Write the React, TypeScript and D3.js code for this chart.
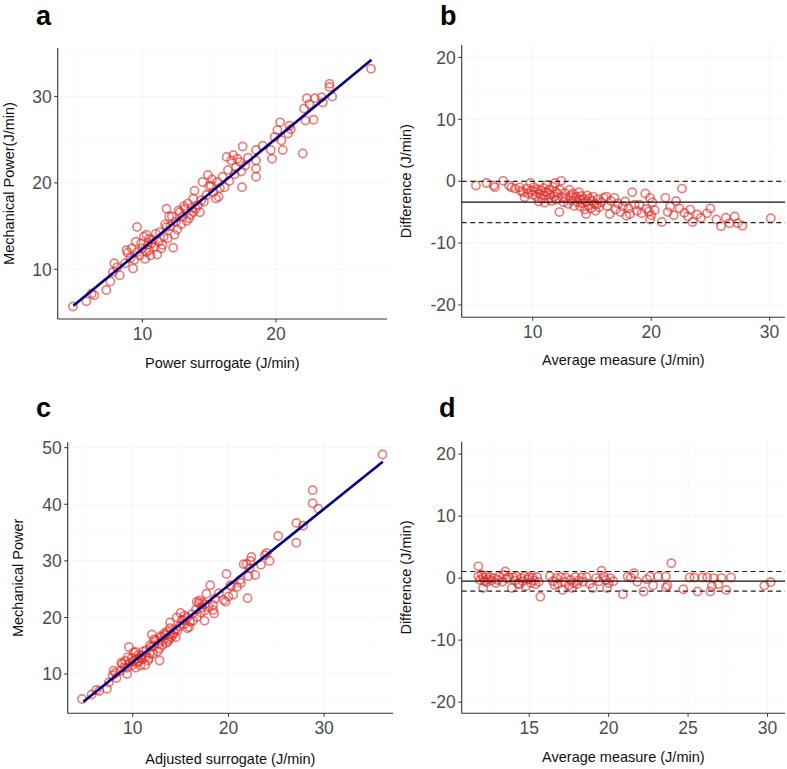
import React, { useEffect } from 'react';
import * as d3 from 'd3';

type Pt = [number, number];

// Panel a: power surrogate vs mechanical power (J/min)
const aPoints: Pt[] = [
  [4.8, 5.7], [5.8, 6.3], [6.2, 7.2], [6.4, 7.0], [7.3, 7.6], [7.6, 8.6], [7.8, 9.7], [7.9, 10.7],
  [8.3, 9.3], [8.1, 10.2], [8.7, 10.7], [8.8, 12.2], [8.9, 11.9], [9.1, 11.3], [9.3, 10.1], [9.4, 11.1],
  [9.2, 12.4], [9.6, 14.9], [9.5, 13.2], [9.6, 12.0], [9.9, 13.0], [9.8, 11.6], [10.0, 12.4], [10.1, 13.8],
  [10.2, 11.2], [10.3, 14.0], [10.3, 12.0], [10.4, 12.8], [10.5, 12.2], [10.5, 13.5], [10.6, 11.6], [10.7, 13.0],
  [10.8, 13.4], [10.9, 12.6], [11.0, 14.1], [11.1, 11.7], [11.2, 13.2], [11.3, 14.3], [11.4, 12.4], [11.5, 12.8],
  [11.6, 13.8], [11.7, 15.2], [11.8, 17.0], [11.8, 14.9], [11.9, 13.6], [12.0, 16.1], [12.1, 15.0], [12.2, 16.1],
  [12.3, 12.5], [12.4, 14.0], [12.5, 15.5], [12.6, 14.6], [12.7, 16.8], [12.8, 16.6], [12.9, 15.2], [13.0, 16.1],
  [13.1, 17.3], [13.2, 17.0], [13.3, 15.6], [13.4, 17.6], [13.5, 15.9], [13.6, 16.3], [13.7, 17.1], [13.8, 16.6],
  [13.8, 18.2], [13.9, 19.1], [14.0, 17.0], [14.15, 17.4], [14.3, 16.6], [14.4, 18.0], [14.5, 20.1], [14.6, 17.8],
  [14.8, 18.6], [14.9, 20.9], [15.0, 19.6], [15.15, 19.7], [15.2, 20.4], [15.3, 18.9], [15.5, 18.2], [15.6, 20.1],
  [15.7, 18.4], [15.8, 19.4], [16.0, 20.7], [16.15, 19.5], [16.3, 23.0], [16.4, 21.5], [16.5, 20.2], [16.65, 22.6],
  [16.8, 23.2], [16.9, 21.0], [17.0, 21.8], [17.1, 22.8], [17.3, 22.4], [17.4, 21.3], [17.45, 19.5], [17.5, 24.2],
  [17.7, 22.0], [17.9, 22.9], [18.5, 23.8], [18.5, 22.6], [18.5, 21.65], [18.5, 20.7], [19.0, 24.3], [19.6, 23.8],
  [19.7, 22.8], [19.9, 25.3], [20.1, 26.1], [20.3, 27.0], [20.4, 24.9], [20.5, 23.8], [20.9, 25.7], [21.0, 26.6],
  [21.1, 26.2], [22.0, 23.4], [22.1, 28.6], [22.2, 27.2], [22.3, 29.8], [22.5, 29.1], [22.8, 27.3], [22.9, 29.8],
  [23.4, 29.9], [23.5, 29.3], [24.0, 31.45], [24.0, 31.1], [24.2, 30.0], [27.1, 33.2],
];
const aFit: Pt[] = [[4.83, 5.77], [27.14, 34.23]];

// Panel b: Bland-Altman of panel a
const bPoints: Pt[] = [
  [5.2, -0.7], [6.1, -0.3], [6.7, -0.7], [6.8, -1.0], [7.5, 0.05], [8.0, -0.7], [8.2, -1.0], [8.5, -1.2],
  [8.9, -1.0], [9.0, -1.6], [9.2, -1.8], [9.3, -2.6], [9.5, -1.2], [9.6, -2.0], [9.8, -0.3], [9.9, -1.5],
  [10.0, -2.2], [10.1, -1.0], [10.2, -1.7], [10.3, -2.5], [10.4, -1.3], [10.5, -3.3], [10.6, -2.0], [10.7, -1.5],
  [10.8, -2.8], [10.9, -1.1], [11.0, -2.3], [11.0, -3.5], [11.1, -1.8], [11.2, -0.6], [11.3, -2.9], [11.4, -1.4],
  [11.5, -2.2], [11.6, -3.2], [11.7, -0.9], [11.8, -2.5], [11.9, -0.3], [11.9, -1.7], [12.0, -3.0], [12.1, -2.0],
  [12.25, -5.0], [12.3, -1.4], [12.4, 0.05], [12.5, -2.6], [12.6, -3.4], [12.7, -1.9], [12.8, -2.8], [13.0, -3.7],
  [13.1, -1.4], [13.2, -2.3], [13.3, -3.1], [13.4, -2.0], [13.5, -4.0], [13.6, -2.7], [13.7, -2.5], [13.8, -3.4],
  [13.9, -1.8], [14.0, -4.1], [14.0, -3.0], [14.1, -2.4], [14.2, -3.6], [14.3, -2.9], [14.4, -4.6], [14.5, -5.3],
  [14.5, -3.3], [14.6, -2.3], [14.7, -3.9], [14.8, -2.8], [14.9, -4.4], [15.0, -3.2], [15.1, -2.5], [15.2, -3.7],
  [15.3, -4.8], [15.4, -3.8], [15.5, -2.9], [15.6, -4.2], [15.8, -3.4], [16.0, -2.7], [16.2, -2.5], [16.3, -4.0],
  [16.5, -5.3], [16.6, -3.2], [16.9, -2.7], [17.0, -4.6], [17.2, -3.6], [17.4, -5.0], [17.6, -4.1], [17.8, -3.3],
  [17.9, -5.6], [18.1, -4.4], [18.2, -5.3], [18.4, -1.8], [18.6, -3.8], [18.8, -4.8], [19.0, -3.8], [19.2, -5.2],
  [19.5, -2.0], [19.6, -4.5], [19.8, -4.9], [19.9, -2.7], [19.9, -6.2], [20.0, -5.5], [20.1, -3.4], [20.3, -4.7],
  [20.9, -6.6], [21.2, -2.7], [21.4, -5.0], [21.6, -4.1], [21.9, -5.5], [22.1, -3.2], [22.4, -4.4], [22.6, -1.2],
  [22.8, -5.1], [23.1, -5.7], [23.3, -4.6], [23.5, -6.6], [23.9, -5.4], [24.2, -5.9], [24.7, -5.2], [25.0, -4.4],
  [25.5, -6.2], [25.9, -7.3], [26.3, -5.9], [26.6, -6.8], [27.05, -5.7], [27.3, -6.8], [27.7, -7.2], [30.1, -6.0],
];
const bLimits = [-3.39, -0.03, -6.7]; // mean, upper, lower

// Panel c: adjusted surrogate vs mechanical power
const cPoints: Pt[] = [
  [4.7, 5.6], [5.7, 6.4], [6.2, 7.2], [6.5, 7.0], [7.3, 7.4], [7.5, 8.5], [7.9, 9.8], [8.0, 10.6],
  [8.3, 9.3], [8.2, 10.2], [8.7, 10.6], [8.8, 12.0], [8.9, 11.8], [9.1, 11.2], [9.4, 10.0], [9.4, 11.1],
  [9.2, 12.3], [9.6, 14.8], [9.5, 13.0], [9.7, 12.0], [9.9, 12.9], [9.9, 11.5], [10.1, 12.3], [10.1, 13.8],
  [10.3, 11.1], [10.3, 13.9], [10.4, 12.0], [10.5, 12.7], [10.6, 12.2], [10.6, 13.4], [10.8, 11.5], [10.8, 12.9],
  [10.9, 13.3], [11.0, 12.6], [11.1, 14.0], [11.3, 11.6], [11.4, 13.1], [11.4, 14.2], [11.6, 12.4], [11.7, 12.8],
  [11.8, 13.7], [11.8, 15.1], [12.0, 17.0], [11.9, 14.8], [12.1, 13.6], [12.2, 16.1], [12.2, 15.0], [12.4, 16.0],
  [12.8, 12.4], [12.6, 14.0], [12.7, 15.4], [12.8, 14.5], [12.9, 16.7], [13.0, 16.5], [13.1, 15.1], [13.2, 16.0],
  [13.3, 17.2], [13.4, 16.9], [13.5, 15.5], [13.6, 17.5], [13.7, 15.8], [13.8, 16.2], [13.9, 17.0], [14.0, 16.5],
  [13.9, 18.1], [13.9, 19.1], [14.2, 16.9], [14.3, 17.3], [14.5, 16.5], [14.5, 17.9], [14.6, 20.0], [14.7, 17.7],
  [14.9, 18.5], [15.0, 20.8], [15.1, 19.5], [15.3, 19.6], [15.4, 20.3], [15.4, 18.8], [15.7, 18.1], [15.7, 20.0],
  [15.9, 18.3], [16.0, 19.3], [16.2, 20.6], [16.3, 19.4], [16.7, 22.8], [16.6, 21.4], [16.7, 20.1], [16.9, 22.5],
  [17.0, 23.0], [17.1, 20.9], [17.2, 21.7], [17.3, 22.6], [17.5, 22.3], [17.5, 21.2], [17.5, 19.4], [17.7, 24.2],
  [17.9, 21.9], [18.1, 25.7], [18.4, 22.2], [18.4, 21.3], [18.5, 20.7], [18.6, 23.3], [19.0, 24.3], [19.5, 23.1],
  [19.7, 22.8], [19.8, 27.7], [20.0, 23.7], [20.2, 25.7], [20.3, 25.5], [20.5, 24.0], [20.9, 25.4], [21.2, 26.6],
  [21.3, 26.1], [21.6, 29.4], [21.9, 29.4], [22.0, 23.4], [22.1, 27.3], [22.2, 28.7], [22.3, 30.0], [22.4, 30.7],
  [22.8, 27.5], [23.4, 29.3], [23.8, 31.0], [24.0, 31.4], [24.3, 30.0], [25.2, 34.4], [27.1, 36.7], [27.1, 33.2],
  [27.8, 36.2], [28.8, 42.5], [28.8, 40.2], [29.4, 39.2], [36.1, 48.8],
];
const cFit: Pt[] = [[4.84, 5.11], [36.13, 47.5]];

// Panel d: Bland-Altman of panel c
const dPoints: Pt[] = [
  [11.8, 1.9], [11.8, 0.3], [11.9, -0.3], [12.0, 0.6], [12.1, -1.6], [12.1, 0.1], [12.2, -0.5], [12.3, -0.65],
  [12.3, 0.4], [12.4, -0.2], [12.5, 0.2], [12.6, -0.4], [12.8, 0.0], [12.9, -0.8], [13.0, -0.3], [13.1, 0.3],
  [13.3, -0.6], [13.4, 0.5], [13.5, 1.07], [13.6, -0.1], [13.7, 0.2], [13.9, -1.6], [14.0, 0.1], [14.1, -0.4],
  [14.2, 0.3], [14.3, -0.9], [14.4, -1.0], [14.5, 0.0], [14.6, -0.5], [14.7, 0.3], [14.8, -1.3], [14.9, -0.2],
  [15.0, 0.2], [15.1, -0.8], [15.2, 0.1], [15.3, -0.4], [15.4, -1.0], [15.5, 0.2], [15.6, -0.6], [15.7, -3.0],
  [16.3, 0.3], [16.5, -0.5], [16.6, -1.1], [16.7, 0.0], [16.8, -0.9], [17.0, 0.2], [17.1, -1.9], [17.2, -0.6],
  [17.3, 0.1], [17.5, -1.2], [17.6, -0.3], [17.7, -1.6], [17.8, -0.8], [17.9, 0.2], [18.0, -1.0], [18.1, -0.4],
  [18.3, 0.1], [18.4, -0.6], [18.6, 0.2], [18.8, -0.9], [19.0, -1.6], [19.2, 0.0], [19.4, -0.5], [19.55, 1.2],
  [19.7, 0.3], [19.8, -0.3], [19.9, -1.6], [20.0, -0.8], [20.1, 0.0], [20.3, -0.5], [20.9, -2.6], [21.2, 0.27],
  [21.4, 0.1], [21.6, 0.8], [21.8, -0.6], [22.2, -2.15], [22.4, -0.2], [22.6, 0.27], [22.8, -1.2], [23.1, 0.27],
  [23.6, 0.27], [23.6, -1.5], [23.7, -1.2], [23.95, 2.4], [24.7, -1.8], [25.1, 0.1], [25.4, 0.1], [25.6, -2.15],
  [25.9, 0.1], [26.2, 0.1], [26.4, -2.15], [26.5, -1.3], [26.6, 0.0], [26.9, -1.0], [27.1, 0.0], [27.4, -1.9],
  [27.7, 0.1], [29.8, -1.2], [30.2, -0.65],
];
const dLimits = [-0.48, 1.07, -2.1];

// axis domains and tick values
const aXDomain = [3.66, 28.3];
const aYDomain = [4.25, 35.6];
const aXTicks = [10, 20];
const aYTicks = [10, 20, 30];
const bXDomain = [4.0, 31.3];
const bYDomain = [-22, 22];
const bXTicks = [10, 20, 30];
const bYTicks = [-20, -10, 0, 10, 20];
const cXDomain = [3.2, 37.2];
const cYDomain = [3.07, 50.95];
const cXTicks = [10, 20, 30];
const cYTicks = [10, 20, 30, 40, 50];
const dXDomain = [10.75, 31.1];
const dYDomain = [-21.8, 22.0];
const dXTicks = [15, 20, 25, 30];
const dYTicks = [-20, -10, 0, 10, 20];

const FONT = '"Liberation Sans", Arial, Helvetica, sans-serif';

interface PanelSpec {
  tag: string;
  tagX: number;
  tagY: number;
  left: number;
  top: number;
  right: number;
  bottom: number;
  xDomain: number[];
  yDomain: number[];
  xTicks: number[];
  yTicks: number[];
  points: Pt[];
  fit?: Pt[];
  limits?: number[];
  xTitle: string;
  yTitle: string;
  xTitleY: number;
  yTitleX: number;
}

// minor grid positions: halfway between the major ticks
function minorOf(ticks: number[], domain: number[]) {
  const step = ticks.length > 1 ? ticks[1] - ticks[0] : 10;
  const out: number[] = [];
  const start = ticks[0] - step / 2 - step * 3;
  for (let v = start; v <= domain[1]; v += step) {
    if (v >= domain[0]) out.push(v);
  }
  return out;
}

function Panel({ p }: { p: PanelSpec }) {
  const x = d3.scaleLinear().domain(p.xDomain).range([p.left, p.right]);
  const y = d3.scaleLinear().domain(p.yDomain).range([p.bottom, p.top]);
  const line = d3.line<Pt>().x(d => x(d[0])).y(d => y(d[1]));
  const xMinor = minorOf(p.xTicks, p.xDomain);
  const yMinor = minorOf(p.yTicks, p.yDomain);
  const tickLen = 3.5;
  const cx = (p.left + p.right) / 2;
  const cy = (p.top + p.bottom) / 2;

  return (
    <g>
      {/* grid */}
      {xMinor.map(v => (
        <line key={'xm' + v} x1={x(v)} x2={x(v)} y1={p.top} y2={p.bottom} stroke="#f6f6f6" strokeWidth={0.5} />
      ))}
      {yMinor.map(v => (
        <line key={'ym' + v} x1={p.left} x2={p.right} y1={y(v)} y2={y(v)} stroke="#f6f6f6" strokeWidth={0.5} />
      ))}
      {p.xTicks.map(v => (
        <line key={'xg' + v} x1={x(v)} x2={x(v)} y1={p.top} y2={p.bottom} stroke="#eeeeee" strokeWidth={0.6} />
      ))}
      {p.yTicks.map(v => (
        <line key={'yg' + v} x1={p.left} x2={p.right} y1={y(v)} y2={y(v)} stroke="#eeeeee" strokeWidth={0.6} />
      ))}

      {/* points */}
      {p.points.map((d, i) => (
        <circle
          key={i}
          cx={x(d[0])}
          cy={y(d[1])}
          r={4.1}
          fill="none"
          stroke="#e02a24"
          strokeOpacity={0.6}
          strokeWidth={1.7}
        />
      ))}

      {/* regression line */}
      {p.fit && <path d={line(p.fit) || ''} fill="none" stroke="#000080" strokeWidth={2.6} />}

      {/* Bland-Altman mean and limits */}
      {p.limits && (
        <g>
          <line x1={p.left} x2={p.right} y1={y(p.limits[0])} y2={y(p.limits[0])} stroke="#111" strokeWidth={1.1} />
          <line x1={p.left} x2={p.right} y1={y(p.limits[1])} y2={y(p.limits[1])} stroke="#222" strokeWidth={1.2} strokeDasharray="5,3.5" />
          <line x1={p.left} x2={p.right} y1={y(p.limits[2])} y2={y(p.limits[2])} stroke="#222" strokeWidth={1.2} strokeDasharray="5,3.5" />
        </g>
      )}

      {/* axes */}
      <line x1={p.left} x2={p.left} y1={p.top} y2={p.bottom} stroke="#333" strokeWidth={1.1} />
      <line x1={p.left} x2={p.right} y1={p.bottom} y2={p.bottom} stroke="#333" strokeWidth={1.1} />
      {p.yTicks.map(v => (
        <g key={'yt' + v}>
          <line x1={p.left - tickLen} x2={p.left} y1={y(v)} y2={y(v)} stroke="#333" strokeWidth={1} />
          <text x={p.left - tickLen - 2.5} y={y(v)} dy="0.36em" textAnchor="end" fontSize={17.5} fill="#4d4d4d" fontFamily={FONT}>
            {v}
          </text>
        </g>
      ))}
      {p.xTicks.map(v => (
        <g key={'xt' + v}>
          <line x1={x(v)} x2={x(v)} y1={p.bottom} y2={p.bottom + tickLen} stroke="#333" strokeWidth={1} />
          <text x={x(v)} y={p.bottom + 21} textAnchor="middle" fontSize={17.5} fill="#4d4d4d" fontFamily={FONT}>
            {v}
          </text>
        </g>
      ))}

      {/* titles */}
      <text x={cx} y={p.xTitleY} textAnchor="middle" fontSize={14.5} fill="#111" fontFamily={FONT}>
        {p.xTitle}
      </text>
      <text
        transform={`translate(${p.yTitleX},${cy}) rotate(-90)`}
        textAnchor="middle"
        fontSize={14.5}
        fill="#111"
        fontFamily={FONT}
      >
        {p.yTitle}
      </text>
      <text x={p.tagX} y={p.tagY} fontSize={27} fontWeight="bold" fill="#000" fontFamily={FONT}>
        {p.tag}
      </text>
    </g>
  );
}

const panels: PanelSpec[] = [
  {
    tag: 'a', tagX: 36, tagY: 25,
    left: 57.7, top: 48, right: 387, bottom: 319,
    xDomain: aXDomain, yDomain: aYDomain, xTicks: aXTicks, yTicks: aYTicks,
    points: aPoints, fit: aFit,
    xTitle: 'Power surrogate (J/min)', yTitle: 'Mechanical Power(J/min)',
    xTitleY: 368, yTitleX: 14,
  },
  {
    tag: 'b', tagX: 440, tagY: 25,
    left: 461.7, top: 45, right: 785, bottom: 317.3,
    xDomain: bXDomain, yDomain: bYDomain, xTicks: bXTicks, yTicks: bYTicks,
    points: bPoints, limits: bLimits,
    xTitle: 'Average measure (J/min)', yTitle: 'Difference (J/min)',
    xTitleY: 365, yTitleX: 411,
  },
  {
    tag: 'c', tagX: 36, tagY: 417,
    left: 67.7, top: 442.3, right: 393, bottom: 713.3,
    xDomain: cXDomain, yDomain: cYDomain, xTicks: cXTicks, yTicks: cYTicks,
    points: cPoints, fit: cFit,
    xTitle: 'Adjusted surrogate (J/min)', yTitle: 'Mechanical Power',
    xTitleY: 764, yTitleX: 23,
  },
  {
    tag: 'd', tagX: 439, tagY: 417,
    left: 461.7, top: 441.7, right: 785, bottom: 713.3,
    xDomain: dXDomain, yDomain: dYDomain, xTicks: dXTicks, yTicks: dYTicks,
    points: dPoints, limits: dLimits,
    xTitle: 'Average measure (J/min)', yTitle: 'Difference (J/min)',
    xTitleY: 762, yTitleX: 411,
  },
];

export default function App() {
  useEffect(() => {
    document.body.style.margin = '0';
  }, []);

  return (
    <svg width={787} height={769} style={{ display: 'block', background: '#fff' }}>
      <rect width={787} height={769} fill="#fff" />
      {panels.map(p => (
        <Panel key={p.tag} p={p} />
      ))}
    </svg>
  );
}
